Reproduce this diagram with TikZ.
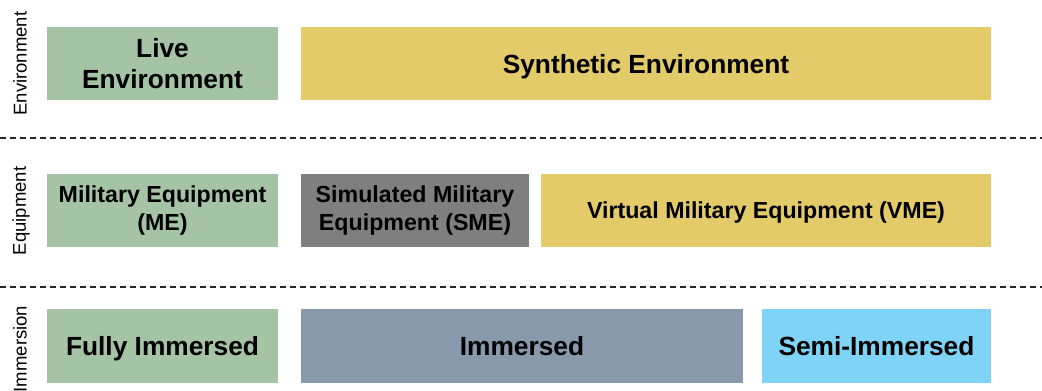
\documentclass[tikz,border=0pt]{standalone}
\usepackage{fontspec}
\setmainfont{Liberation Sans}
\definecolor{livegreen}{HTML}{A5C4A6}
\definecolor{synyellow}{HTML}{E3CB69}
\definecolor{simgrey}{HTML}{7F7F7F}
\definecolor{immslate}{HTML}{8799AB}
\definecolor{semiblue}{HTML}{7FD4F5}
\tikzset{
  box/.style={draw=none, inner sep=0pt, align=center, text=black},
  oneline/.style={text depth=0pt},
  bigtext/.style={font=\fontsize{26.3}{31}\selectfont\bfseries},
  midtext/.style={font=\fontsize{23.2}{28.5}\selectfont\bfseries},
  sidelabel/.style={rotate=90, font=\fontsize{18.5}{20}\selectfont, inner sep=0pt},
  divider/.style={dash pattern=on 6pt off 4pt, line width=1.2pt, draw=black!85}
}
\begin{document}
\begin{tikzpicture}[x=1pt, y=-1pt]
\useasboundingbox[fill=white] (0,0) rectangle (1042,391);
\begin{scope}
\clip (0,0) rectangle (1042,391);
% Environment row
\node[box, bigtext, fill=livegreen, minimum width=231pt, minimum height=73pt] (live) at (162.5,63.5) {Live\\Environment};
\node[box, bigtext, oneline, fill=synyellow, minimum width=690pt, minimum height=73pt] (syn) at (646,63.5) {Synthetic Environment};
% Equipment row
\node[box, midtext, fill=livegreen, minimum width=231pt, minimum height=73pt] (me) at (162.5,210.5) {Military Equipment\\(ME)};
\node[box, midtext, fill=simgrey, minimum width=228pt, minimum height=73pt] (sme) at (415,210.5) {Simulated Military\\Equipment (SME)};
\node[box, midtext, oneline, fill=synyellow, minimum width=450pt, minimum height=73pt] (vme) at (766,210.5) {Virtual Military Equipment (VME)};
% Immersion row
\node[box, bigtext, oneline, fill=livegreen, minimum width=231pt, minimum height=74pt] (full) at (162.5,346) {Fully Immersed};
\node[box, bigtext, oneline, fill=immslate, minimum width=442pt, minimum height=74pt] (imm) at (522,346) {Immersed};
\node[box, bigtext, oneline, fill=semiblue, minimum width=229pt, minimum height=74pt] (semi) at (876.5,346) {Semi-Immersed};
% Row labels
\node[sidelabel] (lenv) at (20,63.5) {Environment};
\node[sidelabel] (lequ) at (21,211) {Equipment};
\node[sidelabel] (limm) at (20,349) {Immersion};
% Dividers
\coordinate (d1a) at (0,138);
\coordinate (d1b) at (1042,138);
\coordinate (d2a) at (0,287);
\coordinate (d2b) at (1042,287);
\draw[divider] (d1a) -- (d1b);
\draw[divider] (d2a) -- (d2b);
\end{scope}
\end{tikzpicture}
\end{document}
